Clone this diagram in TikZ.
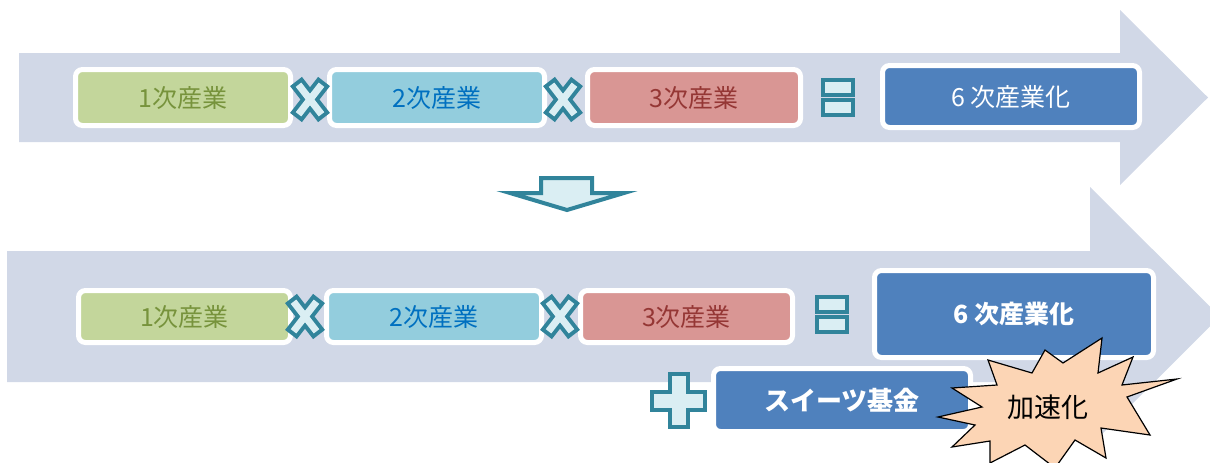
\documentclass[tikz,border=0pt]{standalone}
\usepackage{fontspec}
\newfontfamily\jp{Noto Sans CJK JP}
\definecolor{band}{RGB}{209,216,231}
\definecolor{gfill}{HTML}{C3D69B}
\definecolor{gtext}{HTML}{77933C}
\definecolor{bfill}{HTML}{93CDDD}
\definecolor{btext}{HTML}{0070C0}
\definecolor{rfill}{HTML}{D99694}
\definecolor{rtext}{HTML}{953735}
\definecolor{dfill}{HTML}{4F81BD}
\definecolor{teal1}{HTML}{31849B}
\definecolor{light1}{HTML}{DAEEF3}
\definecolor{starfill}{HTML}{FCD5B5}
\tikzset{
  boxbase/.style={draw=white, line width=5pt, rounded corners=7pt, inner sep=0pt, font=\jp\fontsize{25}{25}\selectfont},
  gbox/.style={boxbase, fill=gfill, text=gtext},
  bbox/.style={boxbase, fill=bfill, text=btext},
  rbox/.style={boxbase, fill=rfill, text=rtext},
  dbox/.style={boxbase, fill=dfill, text=white},
  symb/.style={draw=teal1, fill=light1, line width=4pt, line join=miter},
  mulx/.pic={
    \draw[teal1, line width=15pt] (-14,-18) -- (14,18) (14,-18) -- (-14,18);
    \draw[light1, line width=7pt] (-11.5,-14.8) -- (11.5,14.8) (11.5,-14.8) -- (-11.5,14.8);},
  eqs/.pic={\draw[symb] (-15,-17.5) rectangle (15,-2.5); \draw[symb] (-15,2.5) rectangle (15,17.5);},
  plus/.pic={\draw[symb] (-9,-26.5) -- (9,-26.5) -- (9,-9) -- (26.5,-9) -- (26.5,9) -- (9,9) -- (9,26.5) -- (-9,26.5) -- (-9,9) -- (-26.5,9) -- (-26.5,-9) -- (-9,-9) -- cycle;}
}
\begin{document}
\begin{tikzpicture}[x=1pt,y=-1pt]
\useasboundingbox (0,0) rectangle (1210,463);
\clip (0,0) rectangle (1210,463);
% bands
\fill[band] (19,53) -- (1120,53) -- (1120,10) -- (1208,97.5) -- (1120,185) -- (1120,142) -- (19,142) -- cycle;
\fill[band] (7,251) -- (1090,251) -- (1090,187) -- (1220,316.5) -- (1090,446) -- (1090,382) -- (7,382) -- cycle;
% top row
\node[gbox, minimum width=215pt, minimum height=56pt] (g1) at (183,97.5) {1次産業};
\node[bbox, minimum width=215pt, minimum height=56pt] (b1) at (437,97.5) {2次産業};
\node[rbox, minimum width=213pt, minimum height=56pt] (r1) at (694,97.5) {3次産業};
\node[dbox, minimum width=257pt, minimum height=62pt] (d1) at (1011,96.5) {6 次産業化};
\pic at (310,99.5) {mulx};
\pic at (563,99.5) {mulx};
\pic at (838,97.5) {eqs};
% down arrow
\draw[symb] (541,178) -- (592,178) -- (592,193) -- (624,193) -- (567,210) -- (510,193) -- (541,193) -- cycle;
% bottom row
\node[gbox, minimum width=212pt, minimum height=52pt] (g2) at (184.5,316.5) {1次産業};
\node[bbox, minimum width=215pt, minimum height=52pt] (b2) at (434,316.5) {2次産業};
\node[rbox, minimum width=212pt, minimum height=52pt] (r2) at (686.5,316.5) {3次産業};
\node[dbox, minimum width=279pt, minimum height=87pt, font=\jp\bfseries\fontsize{25}{25}\selectfont] (d2) at (1014,314) {6 次産業化};
\pic at (305,316.5) {mulx};
\pic at (560,316.5) {mulx};
\pic at (832,314.5) {eqs};
\pic at (678.5,400.5) {plus};
\node[dbox, minimum width=257pt, minimum height=63pt, font=\jp\bfseries\fontsize{26}{26}\selectfont] (sw) at (842,400) {スイーツ基金};
% star
\draw[fill=starfill, draw=black, line width=1.2pt, line join=miter]
  (938,417) -- (982,407) -- (952,388) -- (997,385) -- (988,360) -- (1032,373) -- (1045,350) -- (1063,363)
  -- (1102,338) -- (1098,373) -- (1133,357) -- (1122,385) -- (1177,379) -- (1127,397) -- (1150,435)
  -- (1101,428) -- (1106,458) -- (1075,440) -- (1055,468) -- (1025,445) -- (990,463) -- (990,441)
  -- (952,447) -- (975,425) -- cycle;
\node[font=\jp\fontsize{27}{27}\selectfont, text=black] (acc) at (1048,407) {加速化};
\end{tikzpicture}
\end{document}
